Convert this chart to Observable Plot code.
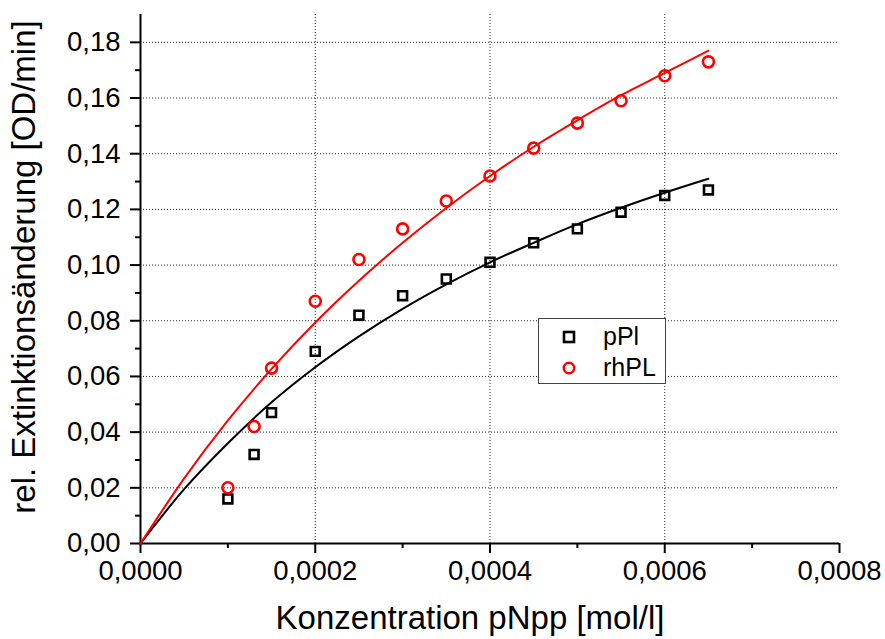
<!DOCTYPE html>
<html>
<head>
<meta charset="utf-8">
<script src="https://cdn.jsdelivr.net/npm/d3@7"></script>
<script src="https://cdn.jsdelivr.net/npm/@observablehq/plot@0.6"></script>
<style>
  html, body { margin: 0; padding: 0; background: #fff; }
  #wrap { position: relative; width: 885px; height: 639px; overflow: hidden; font-family: "Liberation Sans", Arial, sans-serif; }
  #legend { position: absolute; left: 538px; top: 318px; width: 126px; height: 64px; border: 1.5px solid #444; background: #fff; }
  #legend .row { position: absolute; left: 0; height: 32px; width: 126px; }
  #legend svg { position: absolute; left: 22px; top: 8px; }
  #legend span { position: absolute; left: 64px; top: 1px; font-size: 25px; color: #000; }
</style>
</head>
<body>
<div id="wrap"></div>
<script>
// Concentration (mol/l)
const conc = [0.0001, 0.00013, 0.00015, 0.0002, 0.00025, 0.0003, 0.00035, 0.0004, 0.00045, 0.0005, 0.00055, 0.0006, 0.00065];
// Measured rates (OD/min)
const pPl  = [0.016, 0.032, 0.047, 0.069, 0.082, 0.089, 0.095, 0.101, 0.108, 0.113, 0.119, 0.125, 0.127];
const rhPL = [0.020, 0.042, 0.063, 0.087, 0.102, 0.113, 0.123, 0.132, 0.142, 0.151, 0.159, 0.168, 0.173];
// Fit curves
const fitX     = [0, 0.00005, 0.0001, 0.00015, 0.0002, 0.00025, 0.0003, 0.00035, 0.0004, 0.00045, 0.0005, 0.00055, 0.0006, 0.00065];
const fitPPl   = [0, 0.0195, 0.036, 0.0507, 0.0633, 0.0744, 0.0843, 0.0931, 0.101, 0.108, 0.1147, 0.1206, 0.126, 0.131];
const fitRhPL  = [0, 0.0234, 0.0442, 0.0627, 0.0794, 0.0944, 0.108, 0.1205, 0.132, 0.1425, 0.152, 0.161, 0.169, 0.177];
// Ticks
const xMajor = [0, 0.0002, 0.0004, 0.0006, 0.0008];
const xMinor = [0.0001, 0.0003, 0.0005, 0.0007];
const yMajor = [0, 0.02, 0.04, 0.06, 0.08, 0.10, 0.12, 0.14, 0.16, 0.18];
const yMinor = [0.01, 0.03, 0.05, 0.07, 0.09, 0.11, 0.13, 0.15, 0.17];
const xTitle = "Konzentration pNpp [mol/l]";
const yTitle = "rel. Extinktionsänderung [OD/min]";
const seriesNames = ["pPl", "rhPL"];

const pts1 = conc.map((x, i) => ({x, y: pPl[i]}));
const pts2 = conc.map((x, i) => ({x, y: rhPL[i]}));
const fit1 = fitX.map((x, i) => ({x, y: fitPPl[i]}));
const fit2 = fitX.map((x, i) => ({x, y: fitRhPL[i]}));

const fmtX = v => d3.format(".4f")(v).replace(".", ",");
const fmtY = v => d3.format(".2f")(v).replace(".", ",");

const chart = Plot.plot({
  width: 885,
  height: 639,
  marginLeft: 140,
  marginRight: 46,
  marginTop: 14,
  marginBottom: 96,
  style: { fontFamily: "'Liberation Sans', Arial, sans-serif", background: "#fff", color: "#000", overflow: "hidden" },
  x: { domain: [0, 0.0008] },
  y: { domain: [0, 0.19] },
  marks: [
    Plot.gridX(xMajor.filter(d => d > 0 && d < 0.0008), { stroke: "#000", strokeOpacity: 0.85, strokeWidth: 1, strokeDasharray: "1,2" }),
    Plot.gridY(yMajor.filter(d => d > 0), { stroke: "#000", strokeOpacity: 0.85, strokeWidth: 1, strokeDasharray: "1,2" }),
    Plot.axisX(xMinor, { tickSize: 5, tickFormat: () => "", strokeWidth: 2, label: null }),
    Plot.axisX(xMajor, { tickSize: 10, tickPadding: 7, tickFormat: fmtX, fontSize: 27.5, strokeWidth: 2, label: null }),
    Plot.axisY(yMinor, { tickSize: 5, tickFormat: () => "", strokeWidth: 2, label: null }),
    Plot.axisY(yMajor, { tickSize: 10, tickPadding: 10, tickFormat: fmtY, fontSize: 27.5, strokeWidth: 2, label: null }),
    Plot.ruleY([0], { stroke: "#000", strokeWidth: 2 }),
    Plot.ruleX([0], { stroke: "#000", strokeWidth: 2 }),
    Plot.line(fit1, { x: "x", y: "y", stroke: "#000", strokeWidth: 2, curve: "monotone-x" }),
    Plot.line(fit2, { x: "x", y: "y", stroke: "#ff0000", strokeWidth: 2, curve: "monotone-x" }),
    Plot.dot(pts1, { x: "x", y: "y", symbol: "square", r: 5, stroke: "#000", strokeWidth: 2.6, fill: "none" }),
    Plot.dot(pts2, { x: "x", y: "y", symbol: "circle", r: 5.5, stroke: "#ff0000", strokeWidth: 2.6, fill: "none" }),
    Plot.text([xTitle], { frameAnchor: "bottom", dx: -20, dy: 85, fontSize: 33, fill: "#000", textAnchor: "middle" }),
    Plot.text([yTitle], { frameAnchor: "left", rotate: -90, dx: -116, dy: -12, fontSize: 33, fill: "#000", textAnchor: "middle" })
  ]
});

const wrap = document.getElementById("wrap");
wrap.appendChild(chart);

const legend = document.createElement("div");
legend.id = "legend";
legend.innerHTML =
  `<div class="row" style="top:2px"><svg width="16" height="16"><rect x="3" y="3" width="10" height="10" fill="none" stroke="#000" stroke-width="2.6"/></svg><span>${seriesNames[0]}</span></div>` +
  `<div class="row" style="top:33px"><svg width="16" height="16"><circle cx="8" cy="8" r="5.2" fill="none" stroke="#ff0000" stroke-width="2.6"/></svg><span>${seriesNames[1]}</span></div>`;
wrap.appendChild(legend);
</script>
</body>
</html>
